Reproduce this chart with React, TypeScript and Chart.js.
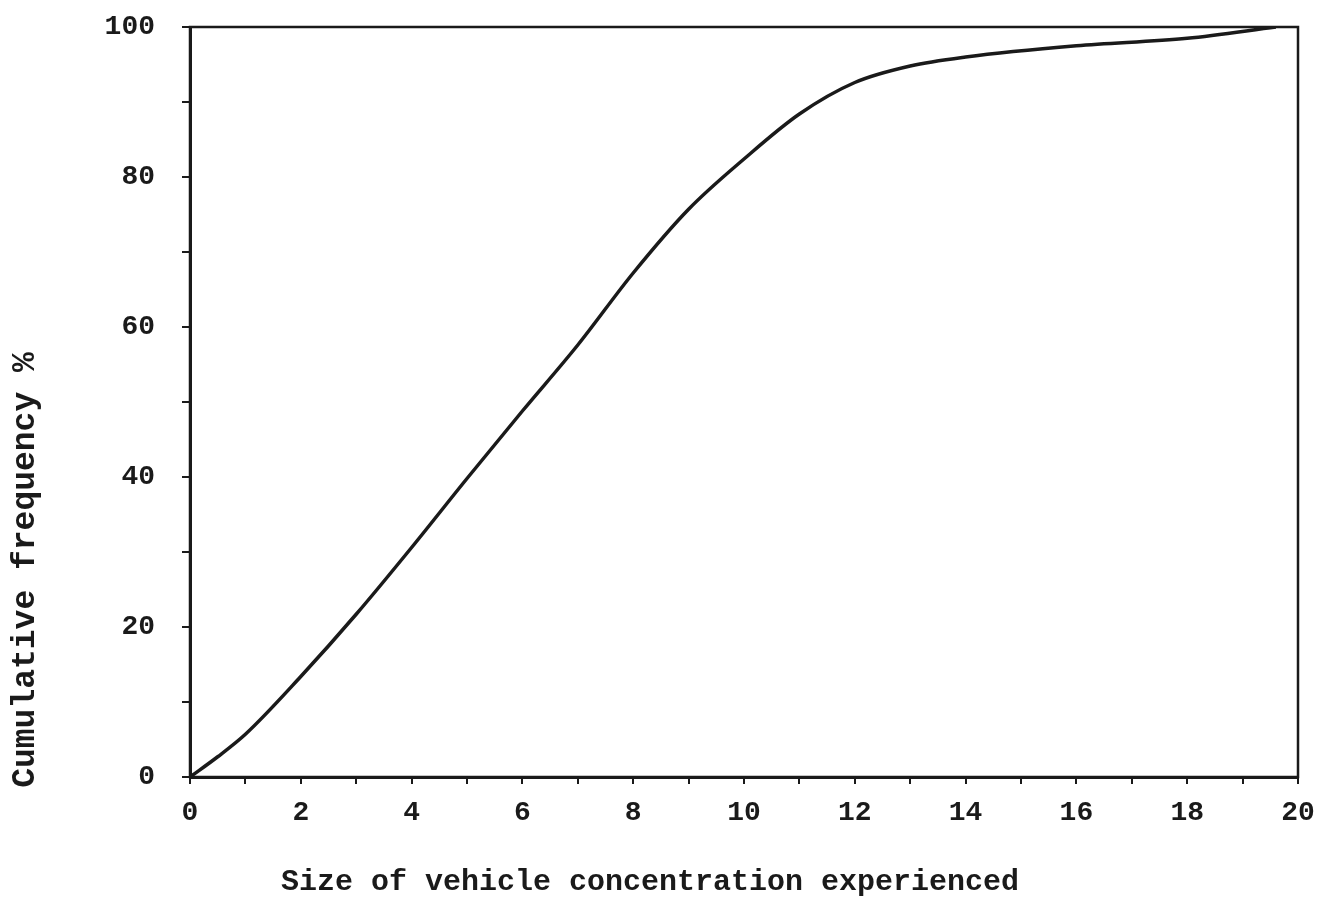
import React, { useEffect, useRef } from "react";
import { Chart, registerables } from "chart.js";

Chart.register(...registerables);

const concentration = [0, 0.5, 1, 2, 3, 4, 5, 6, 7, 8, 9, 10, 11, 12, 13, 14, 16, 18, 19.6];
const cumulativeFrequency = [0, 2.7, 5.7, 13.4, 21.7, 30.6, 39.8, 48.8, 57.6, 67.2, 75.7, 82.4, 88.4, 92.6, 94.8, 96.0, 97.5, 98.5, 100];
const xTickLabels = ["0", "2", "4", "6", "8", "10", "12", "14", "16", "18", "20"];
const yTickLabels = ["0", "20", "40", "60", "80", "100"];
const xTitle = "Size of vehicle concentration experienced";
const yTitle = "Cumulative frequency %";

const FONT = "'Liberation Mono', 'DejaVu Sans Mono', monospace";
const INK = "#1a1a1a";

const framePlugin = {
  id: "framePlugin",
  afterDraw(chart: any) {
    const { ctx, chartArea } = chart;
    ctx.save();
    ctx.strokeStyle = INK;
    ctx.lineWidth = 2.5;
    ctx.strokeRect(chartArea.left, chartArea.top, chartArea.right - chartArea.left, chartArea.bottom - chartArea.top);
    ctx.fillStyle = INK;
    ctx.font = `bold 30px ${FONT}`;
    ctx.textAlign = "center";
    ctx.textBaseline = "middle";
    ctx.fillText(xTitle, 650, 882);
    ctx.translate(26, 570);
    ctx.rotate(-Math.PI / 2);
    ctx.font = `bold 33px ${FONT}`;
    ctx.fillText(yTitle, 0, 0);
    ctx.restore();
  },
};

export default function App() {
  const ref = useRef<HTMLCanvasElement | null>(null);
  useEffect(() => {
    document.body.style.margin = "0";
    document.body.style.background = "#ffffff";
    const chart = new Chart(ref.current as HTMLCanvasElement, {
      type: "line",
      data: {
        datasets: [
          {
            label: "Cumulative frequency",
            data: concentration.map((x, i) => ({ x, y: cumulativeFrequency[i] })),
            borderColor: INK,
            borderWidth: 3.5,
            pointRadius: 0,
            tension: 0.35,
            cubicInterpolationMode: "monotone",
            fill: false,
          },
        ],
      },
      options: {
        animation: false,
        responsive: true,
        maintainAspectRatio: false,
        layout: { padding: { left: 0, top: 27, right: 28, bottom: 0 } },
        plugins: { legend: { display: false }, tooltip: { enabled: false } },
        scales: {
          x: {
            type: "linear",
            min: 0,
            max: 20,
            afterFit: (s: any) => {
              s.height = 128;
              s.paddingLeft = 0;
              s.paddingRight = 0;
            },
            ticks: {
              stepSize: 1,
              autoSkip: false,
              maxRotation: 0,
              padding: 12,
              color: INK,
              font: { family: FONT, size: 28, weight: "bold" },
              callback: (v: any) => (Number(v) % 2 === 0 ? xTickLabels[Number(v) / 2] : ""),
            },
            grid: { drawOnChartArea: false, drawTicks: true, tickLength: 7, color: INK, lineWidth: 2 },
            border: { display: true, color: INK, width: 3 },
          },
          y: {
            type: "linear",
            min: 0,
            max: 100,
            afterFit: (s: any) => {
              s.width = 190;
              s.paddingTop = 0;
              s.paddingBottom = 0;
            },
            ticks: {
              stepSize: 10,
              autoSkip: false,
              padding: 27,
              color: INK,
              font: { family: FONT, size: 28, weight: "bold" },
              callback: (v: any) => (Number(v) % 20 === 0 ? yTickLabels[Number(v) / 20] : ""),
            },
            grid: { drawOnChartArea: false, drawTicks: true, tickLength: 8, color: INK, lineWidth: 2 },
            border: { display: true, color: INK, width: 3 },
          },
        },
      },
      plugins: [framePlugin],
    } as any);
    return () => chart.destroy();
  }, []);
  return (
    <div style={{ position: "fixed", left: 0, top: 0, width: 1326, height: 905, background: "#fff" }}>
      <canvas ref={ref} />
    </div>
  );
}
